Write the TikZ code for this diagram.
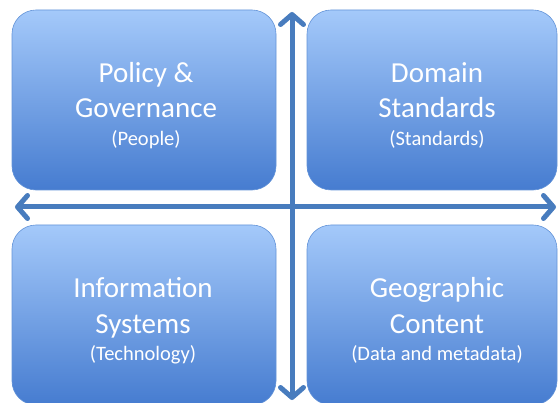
\documentclass[tikz,border=0pt]{standalone}
\usepackage{fontspec}
\setmainfont{Carlito}
\usetikzlibrary{arrows.meta}
\definecolor{boxtop}{RGB}{164,201,250}
\definecolor{boxbot}{RGB}{70,124,208}
\definecolor{boxedge}{RGB}{100,148,216}
\definecolor{arrowblue}{RGB}{72,124,190}
\tikzset{
  quad/.style={draw=boxedge, line width=0.6pt, rounded corners=24pt, top color=boxtop, bottom color=boxbot, inner sep=0pt},
  titletext/.style={text=white, font=\fontsize{29}{34}\selectfont, anchor=base, inner sep=0pt},
  subtext/.style={text=white, font=\fontsize{20.5}{24}\selectfont, anchor=base, inner sep=0pt},
  axis/.style={draw=arrowblue, line width=5pt, {Straight Barb[length=10pt, width=23pt, round]}-{Straight Barb[length=10pt, width=23pt, round]}},
}
\begin{document}
\begin{tikzpicture}[x=1pt,y=-1pt]
\useasboundingbox (0,0) rectangle (559,403);
\fill[white] (0,0) rectangle (559,403);
% boxes
\node[quad, minimum width=264pt, minimum height=180pt] (pg) at (144,100) {};
\node[quad, minimum width=250pt, minimum height=180pt] (ds) at (432,100) {};
\node[quad, minimum width=264pt, minimum height=180pt] (is) at (144,315) {};
\node[quad, minimum width=250pt, minimum height=180pt] (gc) at (432,315) {};
% texts
\node[titletext] (pg1) at (146,83) {Policy \&};
\node[titletext] (pg2) at (146,118) {Governance};
\node[subtext] (pg3) at (146,146) {(People)};
\node[titletext] (ds1) at (437,83) {Domain};
\node[titletext] (ds2) at (437,118) {Standards};
\node[subtext] (ds3) at (437,146) {(Standards)};
\node[titletext] (is1) at (143,297) {Information};
\node[titletext] (is2) at (143,333) {Systems};
\node[subtext] (is3) at (143,360) {(Technology)};
\node[titletext] (gc1) at (437,297) {Geographic};
\node[titletext] (gc2) at (437,333) {Content};
\node[subtext] (gc3) at (437,360) {(Data and metadata)};
% axes
\coordinate (top) at (292,12);
\coordinate (bot) at (292,400);
\coordinate (lft) at (15,207);
\coordinate (rgt) at (556,207);
\draw[axis] (bot) -- (top);
\draw[axis] (lft) -- (rgt);
\end{tikzpicture}
\end{document}
